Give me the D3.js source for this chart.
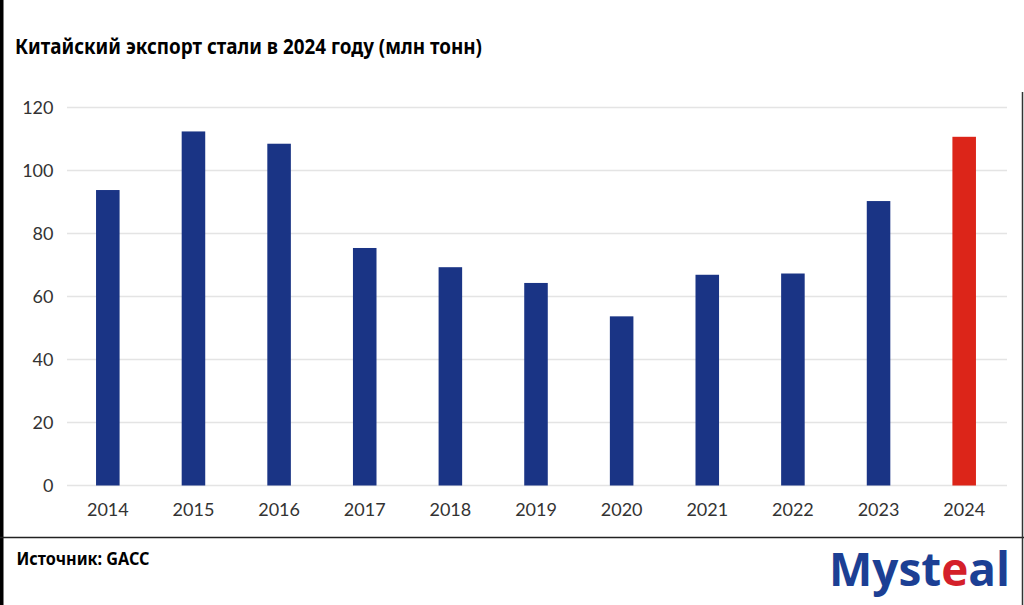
<!DOCTYPE html>
<html><head><meta charset="utf-8">
<script src="https://cdn.jsdelivr.net/npm/d3@7"></script>
<style>body{margin:0;background:#fff;overflow:hidden}</style>
</head><body>
<svg id="c" width="1024" height="605"></svg>
<script>
const years = ["2014","2015","2016","2017","2018","2019","2020","2021","2022","2023","2024"];
const exportsMt = [93.8, 112.4, 108.5, 75.4, 69.3, 64.3, 53.7, 66.9, 67.3, 90.3, 110.7];
const yTicks = [0, 20, 40, 60, 80, 100, 120];
const titleText = "Китайский экспорт стали в 2024 году (млн тонн)";
const sourceText = "Источник: GACC";

const svg = d3.select("#c");
svg.append("rect").attr("width",1024).attr("height",605).attr("fill","#fff");

// frame
svg.append("rect").attr("x",0).attr("y",0).attr("width",3.5).attr("height",605).attr("fill","#000");
svg.append("line").attr("x1",0).attr("x2",1024).attr("y1",537.5).attr("y2",537.5).attr("stroke","#222").attr("stroke-width",1.5);
svg.append("line").attr("x1",1022.5).attr("x2",1022.5).attr("y1",92).attr("y2",605).attr("stroke","#333").attr("stroke-width",1.5);

// title
svg.append("text").attr("x",15).attr("y",53.5).text(titleText)
  .attr("font-family","'Noto Sans', sans-serif").attr("font-weight","bold").attr("font-size",22)
  .attr("textLength",467).attr("lengthAdjust","spacingAndGlyphs").attr("fill","#000");

const x = d3.scaleBand().domain(years).range([65,1007]).paddingInner(0.725).paddingOuter(0.3625);
const y = d3.scaleLinear().domain([0,120]).range([485.5,107.5]);

// grid
svg.append("g").selectAll("line").data(yTicks).join("line")
  .attr("x1",67).attr("x2",1007).attr("y1",d=>y(d)).attr("y2",d=>y(d))
  .attr("stroke","#e4e4e4").attr("stroke-width",1.5);

// y axis labels
const yAxis = d3.axisLeft(y).tickValues(yTicks).tickSize(0).tickPadding(0);
const gy = svg.append("g").attr("transform","translate(53.5,0)").call(yAxis);
gy.select(".domain").remove();
gy.selectAll("text").attr("font-family","Lato, sans-serif").attr("font-size",18).attr("fill","#333").attr("dy","0.36em");

// bars
svg.append("g").selectAll("rect").data(years).join("rect")
  .attr("x",d=>x(d)).attr("width",x.bandwidth())
  .attr("y",(d,i)=>y(exportsMt[i])).attr("height",(d,i)=>y(0)-y(exportsMt[i]))
  .attr("fill",d=>d==="2024"?"#dc2519":"#1a3485");

// x axis labels
const xAxis = d3.axisBottom(x).tickSize(0).tickPadding(0);
const gx = svg.append("g").attr("transform","translate(0,515.5)").call(xAxis);
gx.select(".domain").remove();
gx.selectAll("text").attr("font-family","Lato, sans-serif").attr("font-size",18).attr("fill","#333").attr("dy","0");

// source
svg.append("text").attr("x",16.5).attr("y",564.5).text(sourceText)
  .attr("font-family","'Noto Sans', sans-serif").attr("font-weight","bold").attr("font-size",17)
  .attr("textLength",133).attr("lengthAdjust","spacingAndGlyphs").attr("fill","#000");

// logo
const logo = svg.append("text").attr("x",829).attr("y",586)
  .attr("font-family","'Open Sans', sans-serif").attr("font-weight","bold").attr("font-size",47)
  .attr("textLength",181).attr("lengthAdjust","spacingAndGlyphs");
logo.append("tspan").text("Myst").attr("fill","#1c3f94");
logo.append("tspan").text("e").attr("fill","#d4202a");
logo.append("tspan").text("al").attr("fill","#1c3f94");
</script>
</body></html>
